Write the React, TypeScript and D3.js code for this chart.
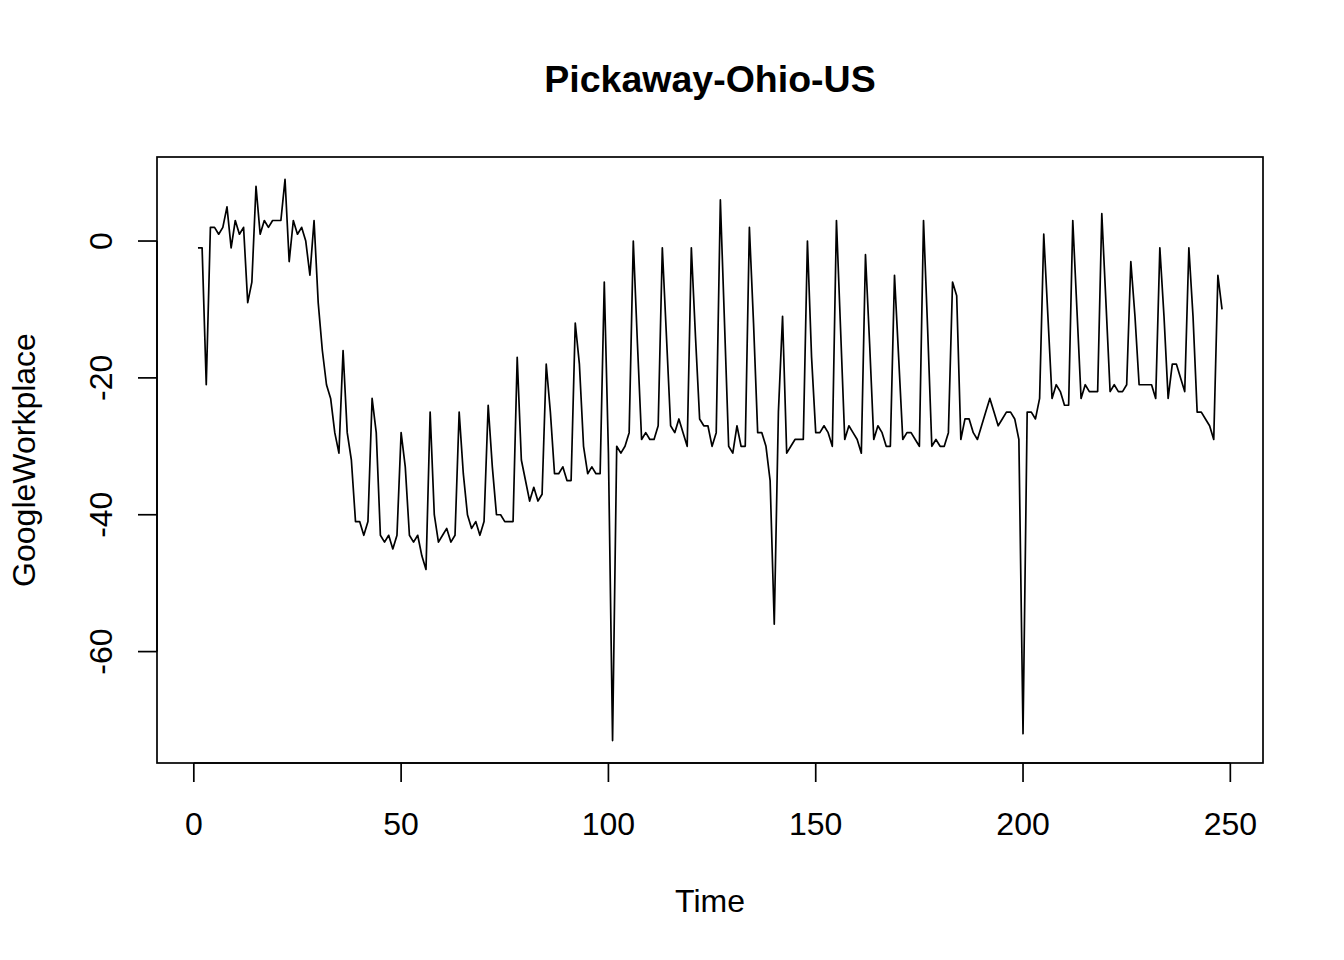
import React from "react";
import * as d3 from "d3";

const title = "Pickaway-Ohio-US";
const xLabel = "Time";
const yLabel = "GoogleWorkplace";

// Google workplace mobility values, day 1..248
const values: number[] = [
  -1, -1, -21, 2, 2, 1, 2, 5, -1, 3,
  1, 2, -9, -6, 8, 1, 3, 2, 3, 3,
  3, 9, -3, 3, 1, 2, 0, -5, 3, -9,
  -16, -21, -23, -28, -31, -16, -28, -32, -41, -41,
  -43, -41, -23, -28, -43, -44, -43, -45, -43, -28,
  -33, -43, -44, -43, -46, -48, -25, -40, -44, -43,
  -42, -44, -43, -25, -34, -40, -42, -41, -43, -41,
  -24, -33, -40, -40, -41, -41, -41, -17, -32, -35,
  -38, -36, -38, -37, -18, -25, -34, -34, -33, -35,
  -35, -12, -18, -30, -34, -33, -34, -34, -6, -31,
  -73, -30, -31, -30, -28, 0, -15, -29, -28, -29,
  -29, -27, -1, -14, -27, -28, -26, -28, -30, -1,
  -14, -26, -27, -27, -30, -28, 6, -12, -30, -31,
  -27, -30, -30, 2, -12, -28, -28, -30, -35, -56,
  -25, -11, -31, -30, -29, -29, -29, 0, -17, -28,
  -28, -27, -28, -30, 3, -13, -29, -27, -28, -29,
  -31, -2, -15, -29, -27, -28, -30, -30, -5, -17,
  -29, -28, -28, -29, -30, 3, -13, -30, -29, -30,
  -30, -28, -6, -8, -29, -26, -26, -28, -29, -27,
  -25, -23, -25, -27, -26, -25, -25, -26, -29, -72,
  -25, -25, -26, -23, 1, -11, -23, -21, -22, -24,
  -24, 3, -10, -23, -21, -22, -22, -22, 4, -9,
  -22, -21, -22, -22, -21, -3, -11, -21, -21, -21,
  -21, -23, -1, -11, -23, -18, -18, -20, -22, -1,
  -11, -25, -25, -26, -27, -29, -5, -10,
];

const xTicks = [0, 50, 100, 150, 200, 250];
const yTicks = [0, -20, -40, -60];

const W = 1344;
const H = 960;
const box = { left: 157, right: 1263, top: 157, bottom: 763 };
const FONT = "'Liberation Sans', Arial, sans-serif";

export default function App() {
  const times = values.map((_, i) => i + 1);
  const [x0, x1] = d3.extent(times) as [number, number];
  const [y0, y1] = d3.extent(values) as [number, number];
  const xPad = (x1 - x0) * 0.04;
  const yPad = (y1 - y0) * 0.04;

  const x = d3.scaleLinear().domain([x0 - xPad, x1 + xPad]).range([box.left, box.right]);
  const y = d3.scaleLinear().domain([y0 - yPad, y1 + yPad]).range([box.bottom, box.top]);

  const line = d3
    .line<number>()
    .x((_, i) => x(times[i]))
    .y((d) => y(d));

  const tickLen = 19;
  const midX = (box.left + box.right) / 2;
  const midY = (box.top + box.bottom) / 2;

  return (
    <div style={{ position: "absolute", left: 0, top: 0 }}>
      <svg width={W} height={H} style={{ display: "block", background: "#fff" }}>
        <rect x={0} y={0} width={W} height={H} fill="#fff" />
        <text
          x={midX}
          y={92}
          textAnchor="middle"
          fontFamily={FONT}
          fontWeight="bold"
          fontSize={37.5}
          fill="#000"
        >
          {title}
        </text>

        <path d={line(values) || ""} fill="none" stroke="#000" strokeWidth={1.7} strokeLinejoin="round" />

        <rect
          x={box.left}
          y={box.top}
          width={box.right - box.left}
          height={box.bottom - box.top}
          fill="none"
          stroke="#000"
          strokeWidth={1.7}
        />

        {/* x axis */}
        <line
          x1={x(xTicks[0])}
          x2={x(xTicks[xTicks.length - 1])}
          y1={box.bottom}
          y2={box.bottom}
          stroke="#000"
          strokeWidth={1.7}
        />
        {xTicks.map((t) => (
          <g key={"xt" + t}>
            <line x1={x(t)} x2={x(t)} y1={box.bottom} y2={box.bottom + tickLen} stroke="#000" strokeWidth={1.7} />
            <text x={x(t)} y={835} textAnchor="middle" fontFamily={FONT} fontSize={32} fill="#000">
              {t}
            </text>
          </g>
        ))}

        {/* y axis */}
        <line
          x1={box.left}
          x2={box.left}
          y1={y(yTicks[0])}
          y2={y(yTicks[yTicks.length - 1])}
          stroke="#000"
          strokeWidth={1.7}
        />
        {yTicks.map((t) => (
          <g key={"yt" + t}>
            <line x1={box.left - tickLen} x2={box.left} y1={y(t)} y2={y(t)} stroke="#000" strokeWidth={1.7} />
            <text
              transform={`translate(112,${y(t)}) rotate(-90)`}
              textAnchor="middle"
              fontFamily={FONT}
              fontSize={32}
              fill="#000"
            >
              {t}
            </text>
          </g>
        ))}

        <text x={midX} y={912} textAnchor="middle" fontFamily={FONT} fontSize={32} fill="#000">
          {xLabel}
        </text>
        <text
          transform={`translate(35,${midY}) rotate(-90)`}
          textAnchor="middle"
          fontFamily={FONT}
          fontSize={32}
          fill="#000"
        >
          {yLabel}
        </text>
      </svg>
    </div>
  );
}
